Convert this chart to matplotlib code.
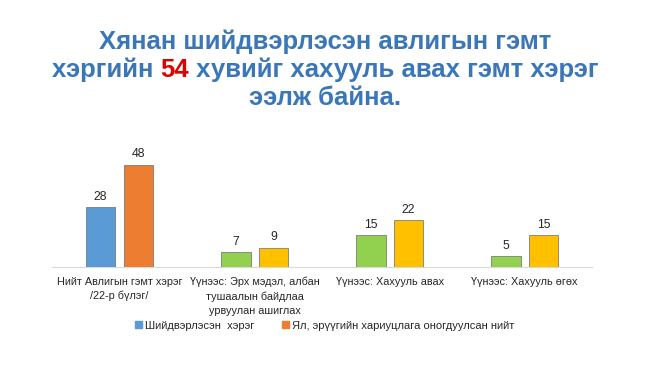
import matplotlib
matplotlib.use("Agg")
import matplotlib.pyplot as plt
import numpy as np
from matplotlib.patches import Patch

plt.rcParams["font.family"] = ["Liberation Sans", "DejaVu Sans"]

# ------
# DATA
# ------
categories = [
    "Нийт Авлигын гэмт хэрэг\n/22-р бүлэг/",
    "Үүнээс: Эрх мэдэл, албан\nтушаалын байдлаа\nурвуулан ашиглах",
    "Үүнээс: Хахууль авах",
    "Үүнээс: Хахууль өгөх",
]
resolved = [28, 7, 15, 5]
sentenced = [48, 9, 22, 15]
series_names = ["Шийдвэрлэсэн  хэрэг", "Ял, эрүүгийн хариуцлага оногдуулсан нийт"]

resolved_colors = ["#5B9BD5", "#92D050", "#92D050", "#92D050"]
sentenced_colors = ["#ED7D31", "#FFC000", "#FFC000", "#FFC000"]

# ------
# CHART
# ------
fig = plt.figure(figsize=(6.5, 3.65), dpi=100)
ax = fig.add_axes([0.08, 0.269, 0.831, 0.35])

x = np.arange(len(categories))
width = 0.22
gap = 0.06
b1 = ax.bar(x - (width + gap) / 2, resolved, width, color=resolved_colors,
            edgecolor="#6b6b6b", linewidth=0.5, zorder=3)
b2 = ax.bar(x + (width + gap) / 2, sentenced, width, color=sentenced_colors,
            edgecolor="#6b6b6b", linewidth=0.5, zorder=3)

for bars in (b1, b2):
    ax.bar_label(bars, padding=3, fontsize=8.8, color="#262626")

ax.set_xlim(-0.5, len(categories) - 0.5)
ax.set_ylim(0, 60)
ax.set_yticks([])
ax.set_xticks(x)
ax.set_xticklabels(categories, fontsize=7.8, color="#262626", linespacing=1.5)
ax.tick_params(axis="x", length=0, pad=7)

for side in ["top", "right", "left"]:
    ax.spines[side].set_visible(False)
ax.spines["bottom"].set_color("#D9D9D9")
ax.spines["bottom"].set_linewidth(0.8)

handles = [Patch(color=resolved_colors[0]), Patch(color=sentenced_colors[0])]
fig.legend(handles, series_names, loc="center", bbox_to_anchor=(0.5, 0.108),
           ncol=2, frameon=False, fontsize=8, handlelength=0.6, handleheight=0.6,
           handletextpad=0.3, columnspacing=2.5, labelcolor="#262626")

# ------
# TITLE
# ------
title_blue = "#3A77B8"
title_kw = dict(fontsize=18.5, fontweight="bold", ha="left", va="center")
fig.canvas.draw()
renderer = fig.canvas.get_renderer()


def centered_line(parts, y):
    texts = [fig.text(0, y, s, color=c, **title_kw) for s, c in parts]
    widths = [t.get_window_extent(renderer).width for t in texts]
    total = sum(widths)
    x0 = (fig.bbox.width - total) / 2
    for t, w in zip(texts, widths):
        t.set_x(x0 / fig.bbox.width)
        x0 += w


centered_line([("Хянан шийдвэрлэсэн авлигын гэмт", title_blue)], 1 - 42 / 365)
centered_line([("хэргийн ", title_blue), ("54", "#E00000"),
               (" хувийг хахууль авах гэмт хэрэг", title_blue)], 1 - 70 / 365)
centered_line([("ээлж байна.", title_blue)], 1 - 98 / 365)

fig.savefig("out.png", dpi=100)
